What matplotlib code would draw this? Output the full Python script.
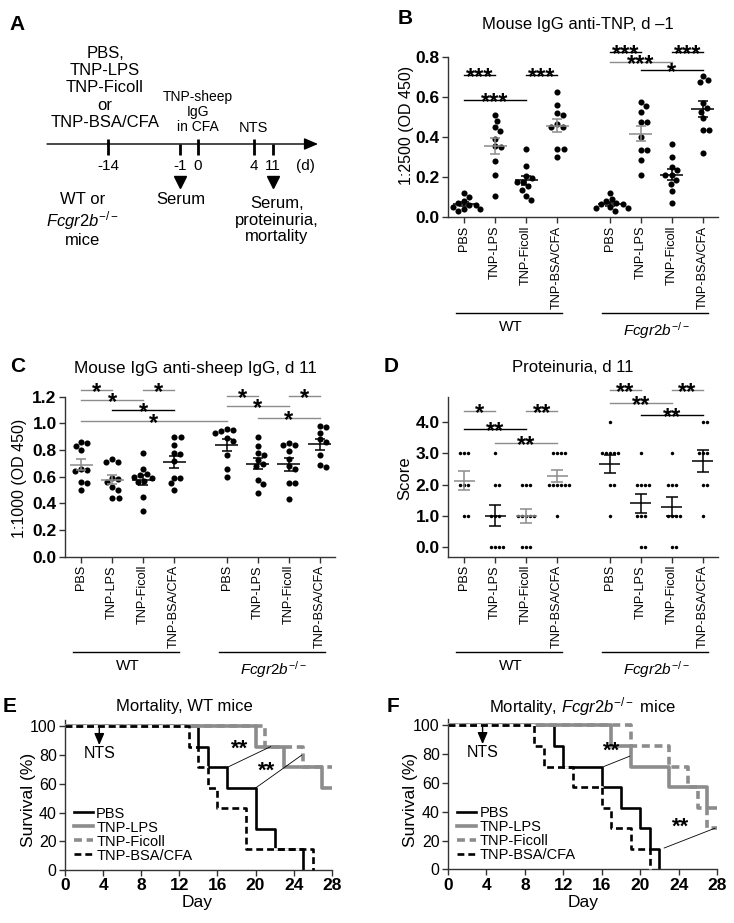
import numpy as np
import matplotlib
matplotlib.use("Agg")
import matplotlib.pyplot as plt
from matplotlib.lines import Line2D

plt.rcParams["font.family"] = ["Liberation Sans", "DejaVu Sans"]
plt.rcParams["mathtext.fontset"] = "custom"
plt.rcParams["mathtext.rm"] = "Liberation Sans"
plt.rcParams["mathtext.it"] = "Liberation Sans:italic"
plt.rcParams["mathtext.bf"] = "Liberation Sans:bold"

# ---------------- data ----------------
groups = ["PBS", "TNP-LPS", "TNP-Ficoll", "TNP-BSA/CFA"]
ko_label = r"$Fcgr2b^{-/-}$"

# B: mouse IgG anti-TNP, d -1 (OD 450)
b_wt = [[0.12, 0.10, 0.08, 0.07, 0.06, 0.06, 0.05, 0.04, 0.04, 0.03],
        [0.51, 0.48, 0.45, 0.43, 0.39, 0.355, 0.35, 0.28, 0.21, 0.107],
        [0.338, 0.258, 0.205, 0.197, 0.177, 0.177, 0.155, 0.138, 0.107, 0.088],
        [0.622, 0.56, 0.522, 0.51, 0.463, 0.452, 0.452, 0.338, 0.338, 0.30]]
b_ko = [[0.123, 0.093, 0.081, 0.07, 0.065, 0.065, 0.053, 0.045, 0.045, 0.032],
        [0.576, 0.556, 0.523, 0.473, 0.473, 0.402, 0.336, 0.336, 0.286, 0.211],
        [0.364, 0.302, 0.252, 0.236, 0.211, 0.211, 0.186, 0.166, 0.131, 0.07],
        [0.704, 0.684, 0.676, 0.568, 0.543, 0.527, 0.497, 0.435, 0.435, 0.322]]

# C: mouse IgG anti-sheep IgG, d 11 (OD 450)
c_wt = [[0.86, 0.85, 0.83, 0.80, 0.66, 0.65, 0.64, 0.56, 0.55, 0.50],
        [0.73, 0.71, 0.71, 0.59, 0.58, 0.56, 0.52, 0.50, 0.44, 0.44],
        [0.78, 0.66, 0.62, 0.61, 0.60, 0.59, 0.57, 0.56, 0.45, 0.34],
        [0.895, 0.895, 0.838, 0.775, 0.768, 0.718, 0.593, 0.588, 0.55, 0.50]]
c_ko = [[0.96, 0.95, 0.94, 0.93, 0.89, 0.87, 0.76, 0.66, 0.60],
        [0.895, 0.833, 0.78, 0.763, 0.725, 0.695, 0.68, 0.575, 0.545, 0.475],
        [0.85, 0.84, 0.84, 0.79, 0.73, 0.68, 0.66, 0.55, 0.55, 0.43],
        [0.98, 0.97, 0.93, 0.88, 0.86, 0.76, 0.69, 0.67]]

# D: proteinuria score, d 11
d_wt = [[3, 3, 3, 2, 2, 2, 1, 1],
        [3, 2, 2, 1, 1, 1, 0, 0, 0, 0],
        [2, 2, 2, 1, 1, 1, 1, 1, 0, 0, 0],
        [3, 3, 3, 3, 2, 2, 2, 2, 2, 2, 1]]
d_ko = [[4, 3, 3, 3, 3, 3, 2, 2, 1],
        [3, 2, 2, 2, 2, 1, 1, 1, 0, 0],
        [3, 2, 2, 2, 1, 1, 1, 1, 0, 0],
        [4, 4, 3, 3, 3, 2, 2, 1]]

# significance bars: (group i, group j, height, label, grey?)
b_sig = [(0, 1, 0.709, "***", 0), (2, 3, 0.709, "***", 0), (0, 2, 0.584, "***", 0),
         (4, 5, 0.825, "***", 0), (6, 7, 0.825, "***", 0), (4, 6, 0.772, "***", 1),
         (5, 7, 0.734, "*", 0)]
c_sig = [(0, 1, 1.25, "*", 1), (2, 3, 1.25, "*", 1), (0, 2, 1.175, "*", 1),
         (1, 3, 1.10, "*", 0), (0, 4, 1.018, "*", 1), (4, 5, 1.208, "*", 1),
         (6, 7, 1.208, "*", 1), (4, 6, 1.13, "*", 1), (5, 7, 1.04, "*", 1)]
d_sig = [(0, 1, 4.35, "*", 1), (2, 3, 4.35, "**", 1), (0, 2, 3.77, "**", 0),
         (1, 3, 3.33, "**", 1), (4, 5, 5.01, "**", 1), (6, 7, 5.01, "**", 1),
         (4, 6, 4.6, "**", 1), (5, 7, 4.21, "**", 0)]

# mean/SEM bar colour per group (0 black, 1 grey)
b_err = [0, 1, 0, 1, 0, 1, 0, 0]
c_err = [1, 1, 0, 0, 0, 0, 0, 0]
d_err = [1, 0, 1, 1, 0, 0, 0, 0]

# E/F: day of death per group (7 mice each, rest survive to d 28)
n_mice = 7
e_deaths = {"PBS": [14, 15, 17, 20, 20, 22, 25],
            "TNP-LPS": [20, 23, 27],
            "TNP-Ficoll": [21, 25],
            "TNP-BSA/CFA": [13, 14, 15, 16, 19, 19, 26]}
f_deaths = {"PBS": [11, 12, 16, 18, 20, 21, 22],
            "TNP-LPS": [17, 19, 23, 27],
            "TNP-Ficoll": [19, 23, 25, 26, 27],
            "TNP-BSA/CFA": [9, 10, 13, 16, 17, 19, 21]}

# ---------------- figure ----------------
W, H = 734, 923
fig = plt.figure(figsize=(7.34, 9.23), dpi=100)
GREY = "#8c8c8c"
AXC = "#333333"


def rect(l, t, r, b):
    return [l / W, 1 - b / H, (r - l) / W, (b - t) / H]


def ftext(x, y, s, **kw):
    fig.text(x / W, 1 - y / H, s, **kw)


def swarm(vals, xscale, yscale, d):
    vals = np.asarray(vals, float)
    offs = np.zeros(len(vals))
    placed = []
    for i in np.argsort(-vals, kind="stable"):
        y = vals[i] * yscale
        cands = [0.0]
        for px, py in placed:
            dy = abs(py - y)
            if dy < d:
                dx = np.sqrt(d * d - dy * dy)
                cands += [px + dx, px - dx]
        cands.sort(key=abs)
        for c in cands:
            if all((c - px) ** 2 + (y - py) ** 2 >= d * d - 1e-6 for px, py in placed):
                break
        placed.append((c, y))
        offs[i] = c / xscale
    return offs


pos = [0, 1, 2, 3, 4.7, 5.7, 6.7, 7.7]


def dot_panel(rc, wt, ko, ylim, yticks, yfmt, yscale, sig, errc, msize, dsp, hm, hc):
    ax = fig.add_axes(rect(*rc))
    ax.set_xlim(-0.52, 8.19)
    ax.set_ylim(*ylim)
    for k, vals in enumerate(wt + ko):
        x = pos[k]
        off = swarm(vals, 31.0, yscale, dsp)
        ax.plot(x + off, vals, "o", color="k", ms=msize, mew=0, zorder=3)
        v = np.asarray(vals, float)
        m = v.mean()
        s = v.std(ddof=1) / np.sqrt(len(v))
        col = GREY if errc[k] else "k"
        ax.hlines(m, x - hm, x + hm, color=col, lw=1.1, zorder=4)
        ax.vlines(x, m - s, m + s, color=col, lw=1.1, zorder=4)
        ax.hlines([m - s, m + s], x - hc, x + hc, color=col, lw=1.1, zorder=4)
    for i, j, y, lab, g in sig:
        col = GREY if g else "k"
        ax.plot([pos[i], pos[j]], [y, y], color=col, lw=1.0, clip_on=False)
        ax.annotate(lab, ((pos[i] + pos[j]) / 2, y), xytext=(0, -6.5),
                    textcoords="offset points", ha="center", va="baseline",
                    fontsize=17, fontweight="bold", annotation_clip=False)
    for s in ["top", "right"]:
        ax.spines[s].set_visible(False)
    for s in ["left", "bottom"]:
        ax.spines[s].set_color(AXC)
        ax.spines[s].set_linewidth(1.0)
    ax.set_xticks(pos)
    ax.set_xticklabels(groups * 2, rotation=90, fontsize=9.2)
    ax.set_yticks(yticks)
    ax.set_yticklabels([yfmt % t for t in yticks], fontsize=12.5, fontweight="bold")
    ax.tick_params(length=4, width=1, color=AXC, pad=2)
    tr = ax.get_xaxis_transform()
    for k0, k1, lab in [(0, 3, "WT"), (4, 7, ko_label)]:
        ax.plot([pos[k0] - 0.25, pos[k1] + 0.17], [-0.596, -0.596], color="k",
                lw=1.0, transform=tr, clip_on=False)
        ax.text((pos[k0] + pos[k1]) / 2, -0.64, lab, transform=tr, ha="center",
                va="top", fontsize=11)
    return ax


# ---- A: schematic ----
ax_a = fig.add_axes(rect(0, 0, 370, 300))
ax_a.set_xlim(0, 370)
ax_a.set_ylim(300, 0)
ax_a.axis("off")
ax_a.annotate("", xy=(318, 144), xytext=(47, 144),
              arrowprops=dict(arrowstyle="-|>,head_length=0.7,head_width=0.3",
                              lw=1, color="k", mutation_scale=12, shrinkA=0, shrinkB=0))
timeline = [("-14", 108, 139), ("-1", 180, 144), ("0", 198, 139), ("4", 254, 139), ("11", 273, 144)]
for lab, x, top in timeline:
    ax_a.plot([x, x], [top, 155], color="k", lw=2, solid_capstyle="butt")
    ax_a.text(x, 166, lab, ha="center", va="center", fontsize=11)
ax_a.text(305, 166, "(d)", ha="center", va="center", fontsize=11)
ax_a.plot([180, 273], [182, 182], "v", color="k", ms=8)
ax_a.text(105, 88, "PBS,\nTNP-LPS\nTNP-Ficoll\nor\nTNP-BSA/CFA", ha="center",
          va="center", fontsize=12, linespacing=1.17)
ax_a.text(198, 112, "TNP-sheep\nIgG\nin CFA", ha="center", va="center",
          fontsize=10, linespacing=1.1)
ax_a.text(253, 128, "NTS", ha="center", va="center", fontsize=10.5)
ax_a.text(181, 199, "Serum", ha="center", va="center", fontsize=12)
ax_a.text(277, 220, "Serum,\nproteinuria,\nmortality", ha="center", va="center",
          fontsize=12, linespacing=1.1)
ax_a.text(83, 220, "WT or\n" + ko_label + "\nmice", ha="center", va="center",
          fontsize=12, linespacing=1.1)

# ---- B, C, D ----
dot_panel((448, 56.7, 718, 217.3), b_wt, b_ko, (0, 0.8), [0, 0.2, 0.4, 0.6, 0.8], "%.1f",
          200.75, b_sig, b_err, 4.4, 6.4, 0.37, 0.16)
dot_panel((65, 396.7, 335, 556.7), c_wt, c_ko, (0, 1.2), [0, 0.2, 0.4, 0.6, 0.8, 1.0, 1.2],
          "%.1f", 133.3, c_sig, c_err, 4.4, 6.4, 0.37, 0.16)
dot_panel((448, 396.7, 718, 556.7), d_wt, d_ko, (-0.3, 4.8), [0, 1, 2, 3, 4], "%.1f",
          31.4, d_sig, d_err, 2.5, 4.0, 0.34, 0.19)

# ---- E, F: survival ----
styles = {"PBS": dict(color="k", lw=1.9, ls="-", z=2),
          "TNP-LPS": dict(color=GREY, lw=2.6, ls="-", z=4),
          "TNP-Ficoll": dict(color=GREY, lw=2.6, ls=(0, (2.2, 1.3)), z=3),
          "TNP-BSA/CFA": dict(color="k", lw=1.9, ls=(0, (2.6, 1.5)), z=5)}


def surv_panel(rc, deaths, notes):
    ax = fig.add_axes(rect(*rc))
    ax.set_xlim(0, 28)
    ax.set_ylim(0, 104.5)
    handles = []
    for g in groups:
        st = styles[g]
        dd = np.array(sorted(deaths[g]))
        xs, ys = [0], [100.0]
        alive = n_mice
        for d in np.unique(dd):
            alive -= int((dd == d).sum())
            xs.append(d)
            ys.append(100.0 * alive / n_mice)
        if alive > 0:
            xs.append(28)
            ys.append(ys[-1])
        kw = dict(color=st["color"], lw=st["lw"], ls=st["ls"])
        if st["ls"] != "-":
            kw["gapcolor"] = "white"
        ax.step(xs, ys, where="post", zorder=st["z"], clip_on=False,
                solid_capstyle="butt", dash_capstyle="butt", **kw)
        handles.append(Line2D([], [], **kw))
    ax.annotate("", xy=(3.6, 87), xytext=(3.6, 100),
                arrowprops=dict(arrowstyle="-|>,head_length=0.7,head_width=0.3",
                                color="k", lw=1, mutation_scale=10, shrinkA=0, shrinkB=0))
    ax.text(3.6, 81, "NTS", ha="center", va="center", fontsize=11.5)
    for (x0, y0, x1, y1), (tx, ty) in notes:
        ax.plot([x0, x1], [y0, y1], color="k", lw=0.6, zorder=6)
        ax.text(tx, ty, "**", ha="center", va="center", fontsize=16, fontweight="bold", zorder=6)
    ax.legend(handles, groups, loc="lower left", bbox_to_anchor=(0.035, 0.05),
              frameon=False, fontsize=10.5, handlelength=1.3, handletextpad=0.2,
              labelspacing=0.0, borderpad=0, borderaxespad=0)
    for s in ["top", "right"]:
        ax.spines[s].set_visible(False)
    for s in ["left", "bottom"]:
        ax.spines[s].set_color(AXC)
        ax.spines[s].set_linewidth(1.0)
    ax.set_xticks(range(0, 29, 4))
    ax.set_xticklabels([str(t) for t in range(0, 29, 4)], fontsize=12.5, fontweight="bold")
    ax.set_yticks(range(0, 101, 20))
    ax.set_yticklabels([str(t) for t in range(0, 101, 20)], fontsize=11.5)
    ax.tick_params(length=4, width=1, color=AXC, pad=2)
    return ax


surv_panel((65, 720, 331.7, 870), e_deaths,
           [((17, 71.4, 21.6, 86), (18.3, 84)), ((20, 57.1, 24.85, 80), (21.2, 69))])
surv_panel((448, 719, 717, 869.3), f_deaths,
           [((16.2, 71.4, 18.9, 78.6), (17, 82)), ((22.5, 14.8, 27.8, 28.6), (24.2, 29))])

# ---- titles, letters, axis labels ----
for lab, x, y in [("A", 17, 25), ("B", 405, 19), ("C", 18, 367), ("D", 391, 367),
                  ("E", 10, 707), ("F", 393, 707)]:
    ftext(x, y, lab, ha="center", va="center", fontsize=15, fontweight="heavy")
ftext(578, 25, "Mouse IgG anti-TNP, d \u20131", ha="center", va="center", fontsize=12)
ftext(195, 368, "Mouse IgG anti-sheep IgG, d 11", ha="center", va="center", fontsize=12.3)
ftext(573, 367, "Proteinuria, d 11", ha="center", va="center", fontsize=12)
ftext(184, 707, "Mortality, WT mice", ha="center", va="center", fontsize=12)
ftext(583, 707, "Mortality, " + ko_label + " mice", ha="center", va="center", fontsize=12)
ftext(407, 125, "1:2500 (OD 450)", ha="center", va="center", rotation=90, fontsize=11.5)
ftext(20, 478, "1:1000 (OD 450)", ha="center", va="center", rotation=90, fontsize=11.5)
ftext(405, 478, "Score", ha="center", va="center", rotation=90, fontsize=12)
ftext(28, 800, "Survival (%)", ha="center", va="center", rotation=90, fontsize=12.5)
ftext(410, 800, "Survival (%)", ha="center", va="center", rotation=90, fontsize=12.5)
ftext(197, 903, "Day", ha="center", va="center", fontsize=12.5)
ftext(583, 903, "Day", ha="center", va="center", fontsize=12.5)

fig.savefig("out.png", dpi=100)
